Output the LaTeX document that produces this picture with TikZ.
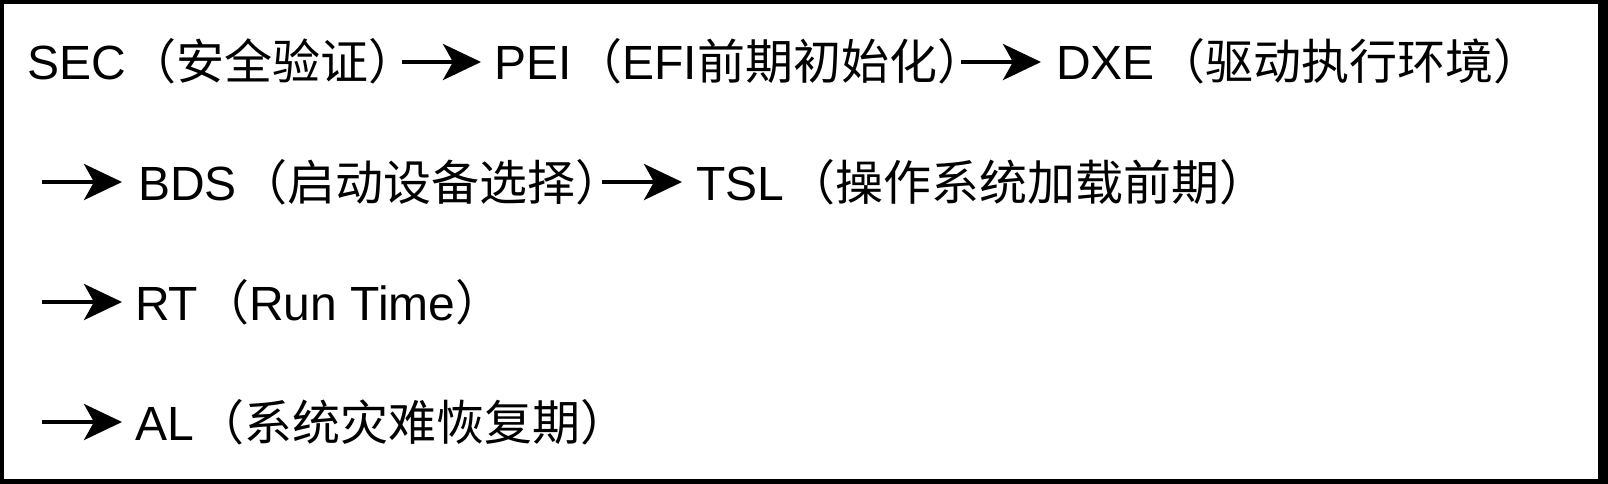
\documentclass[tikz,border=0pt]{standalone}
\usepackage{fontspec}
\setmainfont{Liberation Sans}
\newfontfamily\cjk{Noto Sans CJK SC}
\usetikzlibrary{arrows.meta}
\begin{document}
\begin{tikzpicture}[x=1pt,y=-1pt,
  txt/.style={anchor=base west,inner sep=0pt,font=\fontsize{48}{56}\selectfont},
  arr/.style={line width=4pt,-{Stealth[length=38pt,width=36pt,inset=10pt]}}]
\useasboundingbox (0,0) rectangle (1608,484);
\fill[black] (0,0) rectangle (1608,484);
\fill[white] (4,4) rectangle (1598,479);
% line 1
\node[txt] (sec) at (27,80) {SEC{\cjk\kern3pt（安全验证）}};
\node[txt] (pei) at (494,80) {PEI{\cjk\kern3pt（}EFI{\cjk 前期初始化）}};
\node[txt] (dxe) at (1056,80) {DXE{\cjk\kern3pt（驱动执行环境）}};
% line 2
\node[txt] (bds) at (138,200) {BDS{\cjk\kern3pt（启动设备选择）}};
\node[txt] (tsl) at (696,200) {TSL{\cjk\kern3pt（操作系统加载前期）}};
% line 3
\node[txt] (rt) at (135,320) {RT{\cjk\kern3pt（}Run Time{\cjk）}};
% line 4
\node[txt] (al) at (135,440) {AL{\cjk\kern3pt（系统灾难恢复期）}};
% arrow ends
\coordinate (a1s) at (402,62);  \coordinate (a1e) at (481,62);
\coordinate (a2s) at (961,62);  \coordinate (a2e) at (1041,62);
\coordinate (b1s) at (42,182);  \coordinate (b1e) at (122,182);
\coordinate (b2s) at (602,182); \coordinate (b2e) at (682,182);
\coordinate (c1s) at (42,302);  \coordinate (c1e) at (122,302);
\coordinate (d1s) at (42,422);  \coordinate (d1e) at (122,422);
\draw[arr] (a1s) -- (a1e);
\draw[arr] (a2s) -- (a2e);
\draw[arr] (b1s) -- (b1e);
\draw[arr] (b2s) -- (b2e);
\draw[arr] (c1s) -- (c1e);
\draw[arr] (d1s) -- (d1e);
\end{tikzpicture}
\end{document}
